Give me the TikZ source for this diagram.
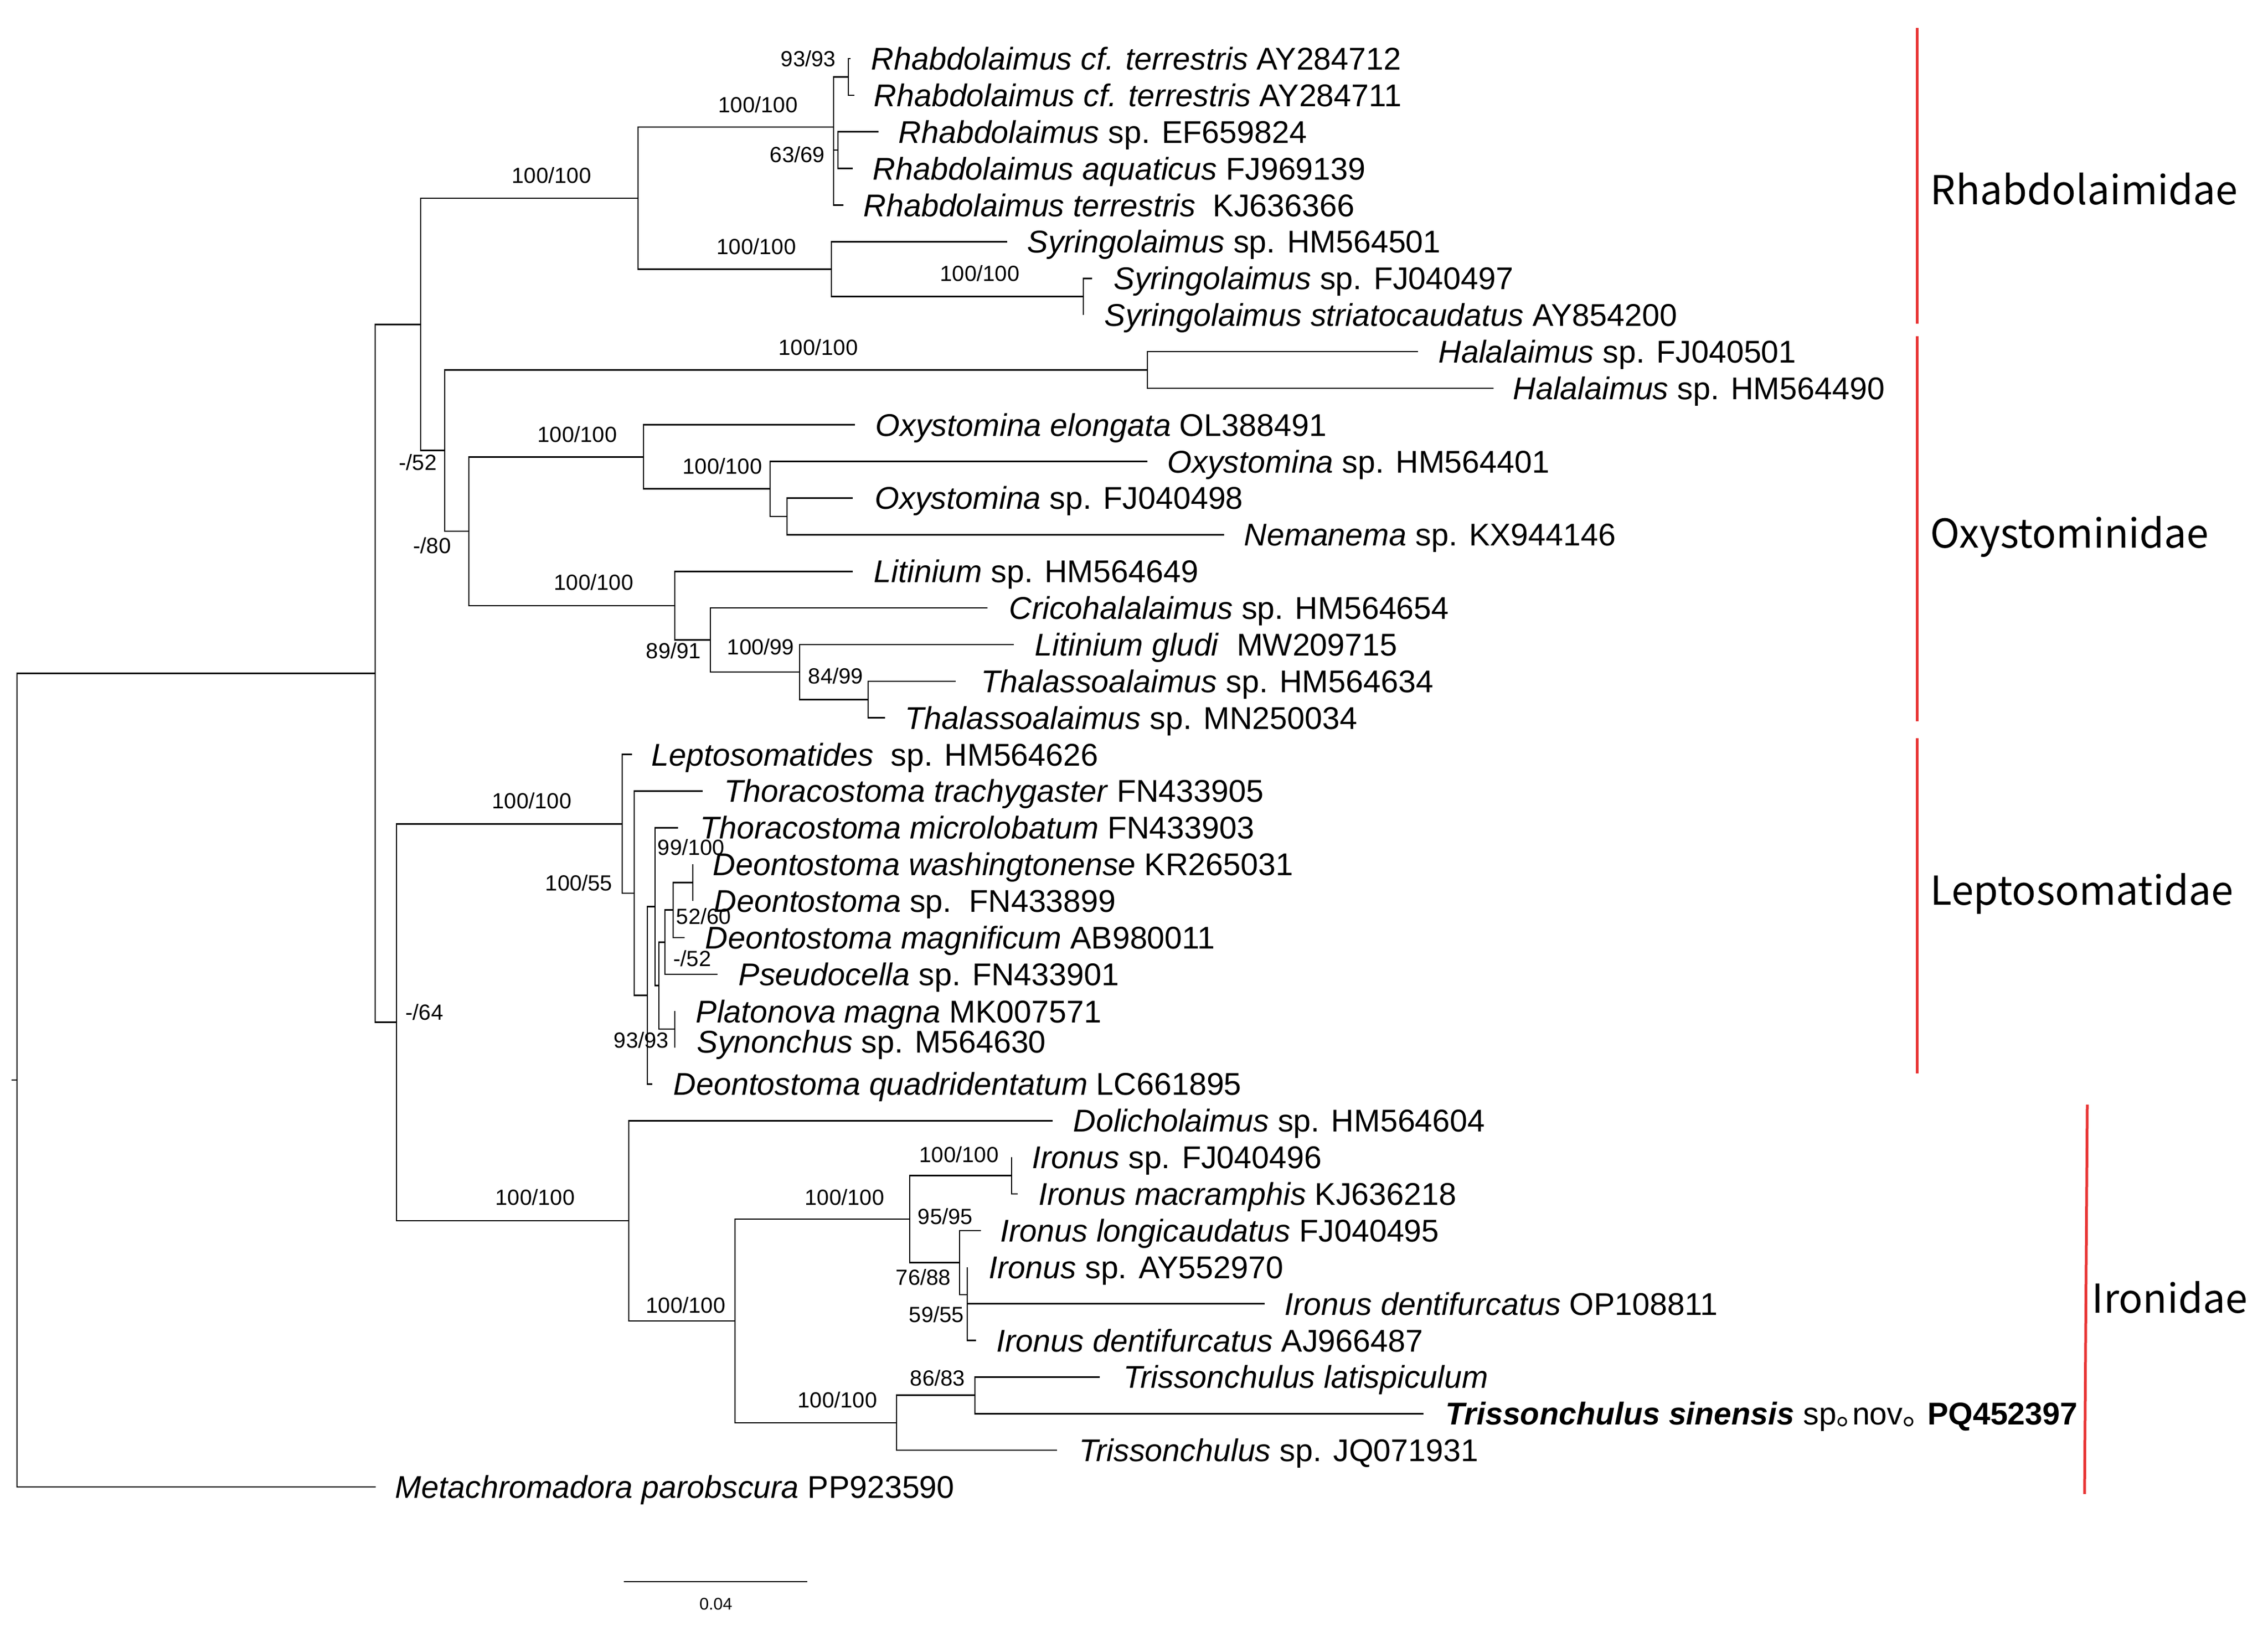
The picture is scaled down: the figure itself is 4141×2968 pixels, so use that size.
\documentclass[tikz,border=0pt]{standalone}
\usepackage{fontspec}
\setmainfont{Liberation Sans}
\newfontfamily\cjk{Noto Sans CJK SC}
\definecolor{cladered}{RGB}{232,52,52}
\newcommand\tipat[5]{\coordinate (#1) at (#2,#3); \node[taxon] (#1lab) at (#4,#3+20.5) {#5};}
\newcommand\bs[4]{\node[boot] (#1) at (#2,#3+14.3) {#4};}
\begin{document}
\begin{tikzpicture}[x=0.25pt,y=-0.25pt,
  branch/.style={line width=0.65pt,black},
  taxon/.style={anchor=base west,inner sep=0pt,font=\fontsize{14.35}{16}\selectfont},
  boot/.style={anchor=base,inner sep=0pt,font=\fontsize{10}{12}\selectfont},
  cladebar/.style={line width=1.25pt,cladered},
  clade/.style={anchor=base west,inner sep=0pt,font=\cjk\fontsize{18.2}{21}\selectfont}]
\useasboundingbox[fill=white] (0,0) rectangle (4141,2968);
% internal nodes
\coordinate (Rb) at (21,1972);
\coordinate (R) at (31,1972);
\coordinate (I) at (685,1229.5);
\coordinate (RO) at (768,592.3);
\coordinate (Rh) at (1165,361.8);
\coordinate (RhC) at (1522,232);
\coordinate (n93) at (1549,140.5);
\coordinate (n6369) at (1530,274);
\coordinate (Sy) at (1518,491.5);
\coordinate (Sy2) at (1978,541.7);
\coordinate (Ox) at (812,822.7);
\coordinate (Ha) at (2095,675.4);
\coordinate (OL) at (856,970);
\coordinate (Oy) at (1175,834.2);
\coordinate (Oy2) at (1406,892.7);
\coordinate (Oy3) at (1437,942.9);
\coordinate (Li) at (1232,1105.9);
\coordinate (Li2) at (1297,1168.6);
\coordinate (Li3) at (1460,1227);
\coordinate (Li4) at (1585,1277.2);
\coordinate (LI) at (724,1866.6);
\coordinate (Le) at (1136,1504.2);
\coordinate (A) at (1158,1631);
\coordinate (B) at (1182,1817.5);
\coordinate (C) at (1196,1655.5);
\coordinate (D) at (1203,1799.7);
\coordinate (E) at (1214,1720.3);
\coordinate (G) at (1229,1661.7);
\coordinate (H) at (1265,1611.6);
\coordinate (F) at (1232,1879);
\coordinate (Ir) at (1148,2229);
\coordinate (I2) at (1342,2412);
\coordinate (IC) at (1661,2226);
\coordinate (I31) at (1847,2146.5);
\coordinate (J) at (1752,2305.4);
\coordinate (K) at (1766,2364);
\coordinate (TC) at (1637,2598);
\coordinate (L) at (1780,2547.75);
% tips and labels
\tipat{t1}{1553}{107}{1590}{\textit{Rhabdolaimus cf. terrestris} AY284712}
\tipat{t2}{1560}{173.9}{1595}{\textit{Rhabdolaimus cf. terrestris} AY284711}
\tipat{t3}{1604}{240.7}{1640}{\textit{Rhabdolaimus} sp. EF659824}
\tipat{t4}{1557}{307.6}{1593}{\textit{Rhabdolaimus aquaticus} FJ969139}
\tipat{t5}{1540}{374.5}{1576}{\textit{Rhabdolaimus terrestris}\ \ KJ636366}
\tipat{t6}{1839}{441.4}{1875}{\textit{Syringolaimus} sp. HM564501}
\tipat{t7}{1994}{508.2}{2033}{\textit{Syringolaimus} sp. FJ040497}
\tipat{t8}{1978}{575.1}{2016}{\textit{Syringolaimus striatocaudatus} AY854200}
\tipat{t9}{2589}{642.0}{2626}{\textit{Halalaimus} sp. FJ040501}
\tipat{t10}{2727}{708.8}{2762}{\textit{Halalaimus} sp. HM564490}
\tipat{t11}{1561}{775.7}{1598}{\textit{Oxystomina elongata} OL388491}
\tipat{t12}{2095}{842.6}{2131}{\textit{Oxystomina} sp. HM564401}
\tipat{t13}{1557}{909.4}{1597}{\textit{Oxystomina} sp. FJ040498}
\tipat{t14}{2235}{976.3}{2271}{\textit{Nemanema} sp. KX944146}
\tipat{t15}{1557}{1043.2}{1595}{\textit{Litinium} sp. HM564649}
\tipat{t16}{1803}{1110.1}{1842}{\textit{Cricohalalaimus} sp. HM564654}
\tipat{t17}{1851}{1176.9}{1889}{\textit{Litinium gludi}\ \ MW209715}
\tipat{t18}{1745}{1243.8}{1791}{\textit{Thalassoalaimus} sp. HM564634}
\tipat{t19}{1616}{1310.7}{1652}{\textit{Thalassoalaimus} sp. MN250034}
\tipat{t20}{1154}{1377.5}{1189}{\textit{Leptosomatides}\ \ sp. HM564626}
\tipat{t21}{1283}{1444.4}{1322}{\textit{Thoracostoma trachygaster} FN433905}
\tipat{t22}{1238}{1511.3}{1278}{\textit{Thoracostoma microlobatum} FN433903}
\tipat{t23}{1265}{1578.1}{1301}{\textit{Deontostoma washingtonense} KR265031}
\tipat{t24}{1265}{1645.0}{1303}{\textit{Deontostoma} sp.\ \ FN433899}
\tipat{t25}{1250}{1711.9}{1287}{\textit{Deontostoma magnificum} AB980011}
\tipat{t26}{1310}{1778.8}{1348}{\textit{Pseudocella} sp. FN433901}
\coordinate (t27) at (1232,1845.6);
\node[taxon] (t27lab) at (1270,1847+20.5) {\textit{Platonova magna} MK007571};
\coordinate (t28) at (1232,1912.5);
\node[taxon] (t28lab) at (1272,1902+20.5) {\textit{Synonchus} sp. M564630};
\tipat{t29}{1191}{1979.4}{1229}{\textit{Deontostoma quadridentatum} LC661895}
\tipat{t30}{1922}{2046.2}{1959}{\textit{Dolicholaimus} sp. HM564604}
\tipat{t31}{1847}{2113.1}{1884}{\textit{Ironus} sp. FJ040496}
\tipat{t32}{1858}{2180.0}{1896}{\textit{Ironus macramphis} KJ636218}
\tipat{t33}{1791}{2246.8}{1826}{\textit{Ironus longicaudatus} FJ040495}
\tipat{t34}{1766}{2313.7}{1805}{\textit{Ironus} sp. AY552970}
\tipat{t35}{2309}{2380.6}{2345}{\textit{Ironus dentifurcatus} OP108811}
\tipat{t36}{1782}{2447.5}{1819}{\textit{Ironus dentifurcatus} AJ966487}
\tipat{t37}{2008}{2514.3}{2051}{\textit{Trissonchulus latispiculum}}
\tipat{t38}{2599}{2581.2}{2639}{\textbf{\textit{Trissonchulus sinensis}} sp{\cjk ｡}nov{\cjk ｡} \textbf{PQ452397}}
\tipat{t39}{1930}{2648.1}{1970}{\textit{Trissonchulus} sp. JQ071931}
\tipat{t40}{686}{2715.0}{721}{\textit{Metachromadora parobscura} PP923590}
% branches
\draw[branch] (Rb) -- (R);
\foreach \p/\c in {R/I,R/t40,I/RO,I/LI,RO/Rh,RO/Ox,Rh/RhC,Rh/Sy,RhC/n93,RhC/n6369,RhC/t5,
  n93/t1,n93/t2,n6369/t3,n6369/t4,Sy/t6,Sy/Sy2,Sy2/t7,Sy2/t8,Ox/Ha,Ox/OL,Ha/t9,Ha/t10,
  OL/Oy,OL/Li,Oy/t11,Oy/Oy2,Oy2/t12,Oy2/Oy3,Oy3/t13,Oy3/t14,Li/t15,Li/Li2,Li2/t16,Li2/Li3,
  Li3/t17,Li3/Li4,Li4/t18,Li4/t19,LI/Le,LI/Ir,Le/t20,Le/A,A/t21,A/B,B/C,B/t29,C/t22,C/D,
  D/E,D/F,E/G,E/t26,G/H,G/t25,H/t23,H/t24,F/t27,F/t28,Ir/t30,Ir/I2,I2/IC,I2/TC,IC/I31,IC/J,
  I31/t31,I31/t32,J/t33,J/K,K/t34,K/t35,K/t36,TC/L,TC/t39,L/t37,L/t38}
  \draw[branch] (\p) |- (\c);
% bootstrap values
\bs{b1}{1476}{107}{93/93}
\bs{b2}{1384}{191}{100/100}
\bs{b3}{1456}{282}{63/69}
\bs{b4}{1381}{450}{100/100}
\bs{b5}{1789}{499.5}{100/100}
\bs{b6}{1007}{320}{100/100}
\bs{b7}{763}{844}{-/52}
\bs{b8}{789}{996}{-/80}
\bs{b9}{1494}{634}{100/100}
\bs{b10}{1054}{793}{100/100}
\bs{b11}{1319}{851}{100/100}
\bs{b12}{1084}{1063}{100/100}
\bs{b13}{1230}{1188}{89/91}
\bs{b14}{1389}{1181}{100/99}
\bs{b15}{1526}{1234}{84/99}
\bs{b16}{971}{1462}{100/100}
\bs{b17}{1057}{1612}{100/55}
\bs{b18}{1262}{1547}{99/100}
\bs{b19}{1285}{1673}{52/60}
\bs{b20}{1264}{1750}{-/52}
\bs{b21}{1171}{1899}{93/93}
\bs{b22}{775}{1848}{-/64}
\bs{b23}{977}{2186}{100/100}
\bs{b24}{1252}{2383}{100/100}
\bs{b25}{1542}{2186}{100/100}
\bs{b26}{1751}{2108}{100/100}
\bs{b27}{1726}{2221}{95/95}
\bs{b28}{1686}{2332}{76/88}
\bs{b29}{1710}{2400}{59/55}
\bs{b30}{1529}{2556}{100/100}
\bs{b31}{1712}{2516}{86/83}
% scale bar
\coordinate (sbA) at (1139,2888);
\coordinate (sbB) at (1474,2888);
\draw[branch] (sbA) -- (sbB);
\node[anchor=base,inner sep=0pt,font=\fontsize{7.7}{9}\selectfont] (sblab) at (1307,2939) {0.04};
% clade bars
\coordinate (rA1) at (3500,51);   \coordinate (rA2) at (3500,591);
\coordinate (rB1) at (3500,614);  \coordinate (rB2) at (3500,1317);
\coordinate (rC1) at (3500,1348); \coordinate (rC2) at (3500,1960);
\coordinate (rD1) at (3811,2017); \coordinate (rD2) at (3806,2728);
\draw[cladebar] (rA1) -- (rA2);
\draw[cladebar] (rB1) -- (rB2);
\draw[cladebar] (rC1) -- (rC2);
\draw[cladebar] (rD1) -- (rD2);
\node[clade] (cR) at (3524,373) {Rhabdolaimidae};
\node[clade] (cO) at (3524,1000) {Oxystominidae};
\node[clade] (cL) at (3524,1652) {Leptosomatidae};
\node[clade] (cI) at (3819,2397) {Ironidae};
\end{tikzpicture}
\end{document}
